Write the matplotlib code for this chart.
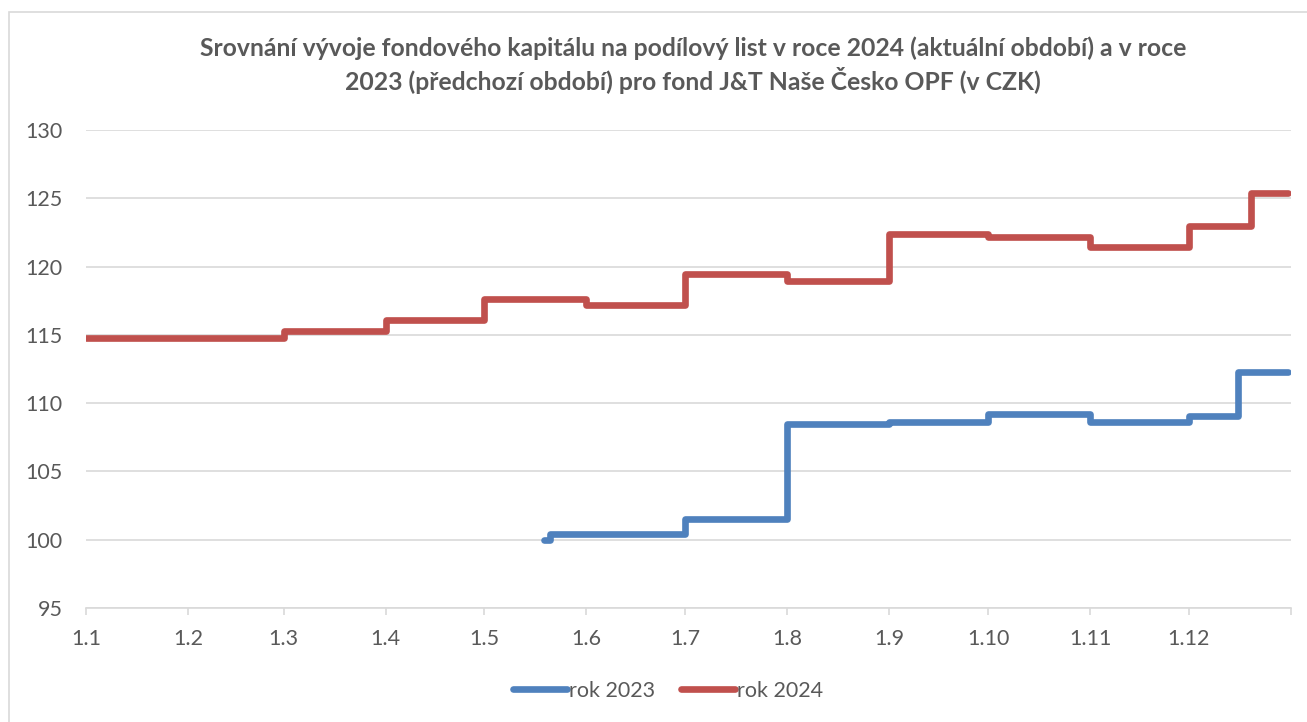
import matplotlib
matplotlib.use("Agg")
import matplotlib.pyplot as plt
import matplotlib.dates as mdates
from matplotlib.patches import Rectangle
import pandas as pd

# ---- data ----
title = ("Srovnání vývoje fondového kapitálu na podílový list v roce 2024 (aktuální období) a v roce\n"
         "2023 (předchozí období) pro fond J&T Naše Česko OPF (v CZK)")

# dates shown on the common (day.month) axis; 2023 series mapped onto the same calendar
dates_2023 = ["2024-05-19", "2024-05-21", "2024-07-01", "2024-08-01", "2024-09-01",
              "2024-10-01", "2024-11-01", "2024-12-01", "2024-12-16", "2024-12-31"]
values_2023 = [100.0, 100.45, 101.5, 108.5, 108.65, 109.2, 108.6, 109.05, 112.3, 112.3]

dates_2024 = ["2024-01-01", "2024-03-01", "2024-04-01", "2024-05-01", "2024-06-01",
              "2024-07-01", "2024-08-01", "2024-09-01", "2024-10-01", "2024-11-01",
              "2024-12-01", "2024-12-20", "2024-12-31"]
values_2024 = [114.8, 115.3, 116.1, 117.6, 117.2, 119.45, 118.95, 122.4, 122.15,
               121.45, 122.95, 125.4, 125.4]

series_labels = ["rok 2023", "rok 2024"]
series_colors = ["#4F81BD", "#C0504D"]

x_tick_dates = pd.date_range("2024-01-01", "2025-01-01", freq="MS")
x_tick_labels = ["1.1", "1.2", "1.3", "1.4", "1.5", "1.6", "1.7", "1.8", "1.9",
                 "1.10", "1.11", "1.12", ""]
y_ticks = [95, 100, 105, 110, 115, 120, 125, 130]

# ---- figure ----
plt.rcParams['font.family'] = ['Lato', 'DejaVu Sans']
W, H = 1307, 722
fig = plt.figure(figsize=(W / 100, H / 100), dpi=100)
ax = fig.add_axes([86 / W, (H - 608) / H, (1291 - 86) / W, (608 - 130) / H])

txt_col = "#595959"
grid_col = "#d9d9d9"

for d, v, lab, col in [(dates_2023, values_2023, series_labels[0], series_colors[0]),
                       (dates_2024, values_2024, series_labels[1], series_colors[1])]:
    ax.plot(pd.to_datetime(d), v, color=col, lw=4.8, drawstyle="steps-post",
            solid_capstyle="round", solid_joinstyle="round", label=lab)

ax.set_xlim(pd.Timestamp("2024-01-01"), pd.Timestamp("2025-01-01"))
ax.set_ylim(95, 130)
ax.set_yticks(y_ticks)
ax.set_xticks(x_tick_dates)
ax.set_xticklabels(x_tick_labels)

ax.yaxis.grid(True, color=grid_col, lw=1.2)
ax.set_axisbelow(True)
for s in ["top", "right", "left"]:
    ax.spines[s].set_visible(False)
ax.spines["bottom"].set_color(grid_col)
ax.spines["bottom"].set_linewidth(1.2)
ax.tick_params(axis="y", length=0, pad=17, labelsize=15.5, labelcolor=txt_col)
ax.tick_params(axis="x", length=5, width=1.2, color=grid_col, pad=10,
               labelsize=15.5, labelcolor=txt_col)

fig.text(693 / W, 1 - 65 / H, title, ha="center", va="center", fontsize=17.8,
         fontweight="bold", color=txt_col, linespacing=1.3)

leg = fig.legend(loc="center", bbox_to_anchor=(668 / W, 1 - 691 / H), ncol=2,
                 frameon=False, fontsize=15.5, handlelength=2.5, handletextpad=0.1,
                 columnspacing=1.2)
for t in leg.get_texts():
    t.set_color(txt_col)

fig.patches.append(Rectangle((9 / W, -0.1), 1.2, 1.1 - 12 / H, transform=fig.transFigure,
                             fill=False, edgecolor=grid_col, lw=1.2))

fig.savefig("out.png", dpi=100, facecolor="white")
